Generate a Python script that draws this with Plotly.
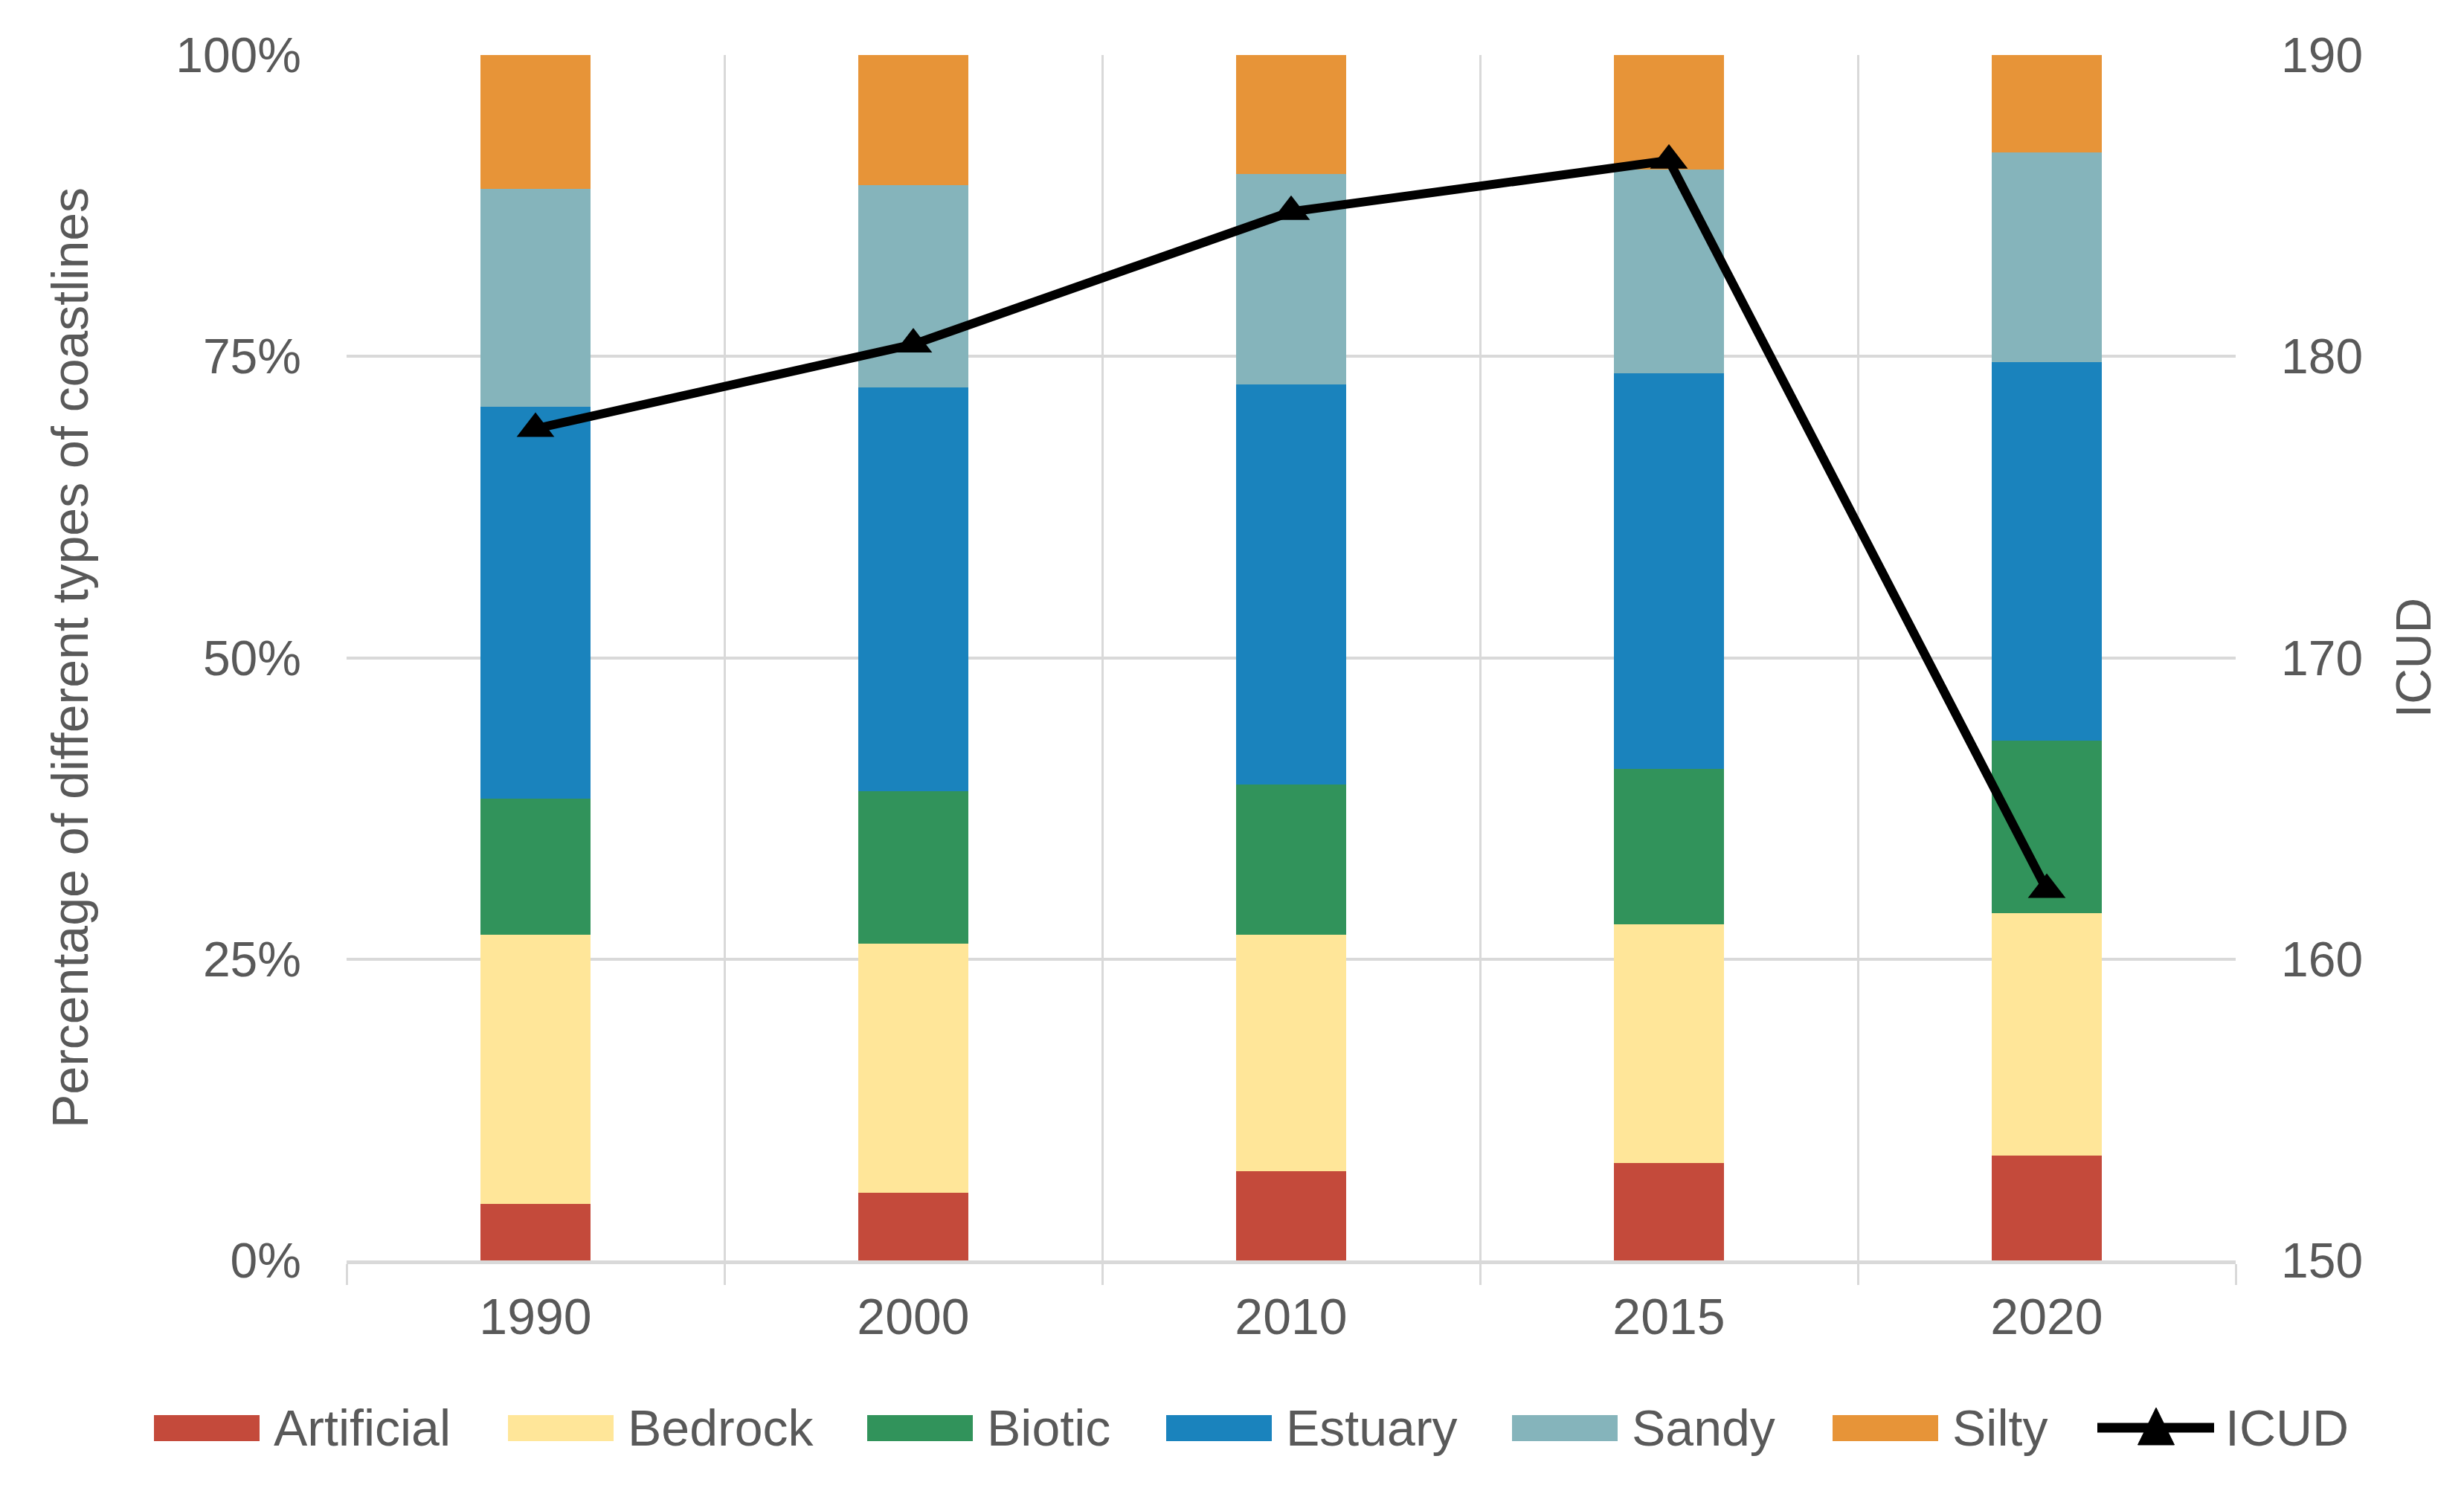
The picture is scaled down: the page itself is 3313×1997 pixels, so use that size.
import plotly.graph_objects as go

years = ["1990", "2000", "2010", "2015", "2020"]
artificial = [4.7, 5.6, 7.4, 8.1, 8.7]
bedrock = [22.3, 20.7, 19.6, 19.8, 20.1]
biotic = [11.3, 12.6, 12.5, 12.9, 14.3]
estuary = [32.5, 33.5, 33.2, 32.8, 31.4]
sandy = [18.1, 16.8, 17.4, 16.9, 17.4]
silty = [11.1, 10.8, 9.9, 9.5, 8.1]
icud = [177.6, 180.4, 184.8, 186.5, 162.3]

series_names = ["Artificial", "Bedrock", "Biotic", "Estuary", "Sandy", "Silty"]
series_values = [artificial, bedrock, biotic, estuary, sandy, silty]
series_colors = ["#C44A3B", "#FFE699", "#31935B", "#1A83BD", "#85B4BB", "#E79438"]

FONT = "Liberation Sans, Arial, sans-serif"
TXT = "#595959"
GRID = "#D9D9D9"

W, H = 3313, 1997
L, R, T, B = 458, 315, 66, 310
PW, PH = W - L - R, H - T - B


def px2x(px):
    return (px - L) / PW


def py2y(py):
    return (H - B - py) / PH


fig = go.Figure()
for name, vals, col in zip(series_names, series_values, series_colors):
    fig.add_trace(go.Bar(
        x=years, y=[v / 100 for v in vals], name=name,
        marker=dict(color=col, line=dict(width=0)),
        yaxis="y", showlegend=False,
    ))

fig.add_trace(go.Scatter(
    x=years, y=icud, name="ICUD", mode="lines+markers",
    line=dict(color="black", width=12),
    marker=dict(symbol="triangle-up", size=44, color="black"),
    yaxis="y2", showlegend=False,
))

# ---- legend (drawn at the bottom, Excel style wide swatches) ----
legend_swatch_left = [199, 675, 1158, 1560, 2025, 2456]
SW_W, SW_Y0, SW_Y1, LEG_Y, TXT_GAP = 142, 1895, 1930, 1912, 17
shapes = []
annotations = []
for name, col, x0 in zip(series_names, series_colors, legend_swatch_left):
    shapes.append(dict(
        type="rect", xref="paper", yref="paper",
        x0=px2x(x0), x1=px2x(x0 + SW_W), y0=py2y(SW_Y1), y1=py2y(SW_Y0),
        fillcolor=col, line=dict(width=0), layer="above",
    ))
    annotations.append(dict(
        text=name, xref="paper", yref="paper",
        x=px2x(x0 + SW_W + TXT_GAP), y=py2y(LEG_Y),
        xanchor="left", yanchor="middle", showarrow=False,
        font=dict(size=68, color=TXT, family=FONT),
    ))

# ICUD legend entry: line with triangle
LX0, LX1, TRI_C, TRI_W, TRI_TOP, TRI_BOT = 2812, 2969, 2891, 49, 1885, 1935
shapes.append(dict(
    type="line", xref="paper", yref="paper",
    x0=px2x(LX0), x1=px2x(LX1), y0=py2y(LEG_Y), y1=py2y(LEG_Y),
    line=dict(color="black", width=13),
))
tri_path = "M {a},{b} L {c},{d} L {e},{f} Z".format(
    a=px2x(TRI_C - TRI_W / 2), b=py2y(TRI_BOT),
    c=px2x(TRI_C + TRI_W / 2), d=py2y(TRI_BOT),
    e=px2x(TRI_C), f=py2y(TRI_TOP),
)
shapes.append(dict(
    type="path", xref="paper", yref="paper", path=tri_path,
    fillcolor="black", line=dict(color="black", width=1),
))
annotations.append(dict(
    text="ICUD", xref="paper", yref="paper",
    x=px2x(2982), y=py2y(LEG_Y),
    xanchor="left", yanchor="middle", showarrow=False,
    font=dict(size=68, color=TXT, family=FONT),
))

fig.update_layout(
    width=W, height=H,
    margin=dict(l=L, r=R, t=T, b=B),
    paper_bgcolor="white", plot_bgcolor="white",
    barmode="stack", bargap=0.71,
    font=dict(family=FONT, size=68, color=TXT),
    showlegend=False,
    shapes=shapes,
    annotations=annotations,
    xaxis=dict(
        type="category", tickson="boundaries",
        showgrid=True, gridcolor=GRID, gridwidth=3,
        ticks="outside", ticklen=28, tickcolor=GRID, tickwidth=3,
        showline=True, linecolor=GRID, linewidth=5,
        tickfont=dict(size=68, color=TXT), ticklabelstandoff=12,
    ),
    yaxis=dict(
        range=[0, 1], tickvals=[0, 0.25, 0.5, 0.75, 1.0],
        tickformat=".0%", showgrid=True, gridcolor=GRID, gridwidth=4,
        zeroline=False, showline=False, ticks="",
        tickfont=dict(size=66, color=TXT), ticklabelstandoff=60,
        title=dict(text="Percentage of different types of coastlines",
                   font=dict(size=68, color=TXT), standoff=95),
    ),
    yaxis2=dict(
        range=[150, 190], tickvals=[150, 160, 170, 180, 190],
        overlaying="y", side="right", showgrid=False, zeroline=False,
        showline=False, ticks="",
        tickfont=dict(size=66, color=TXT), ticklabelstandoff=60,
        title=dict(text="ICUD", font=dict(size=66, color=TXT), standoff=45),
    ),
)

fig.write_html("out.html")
